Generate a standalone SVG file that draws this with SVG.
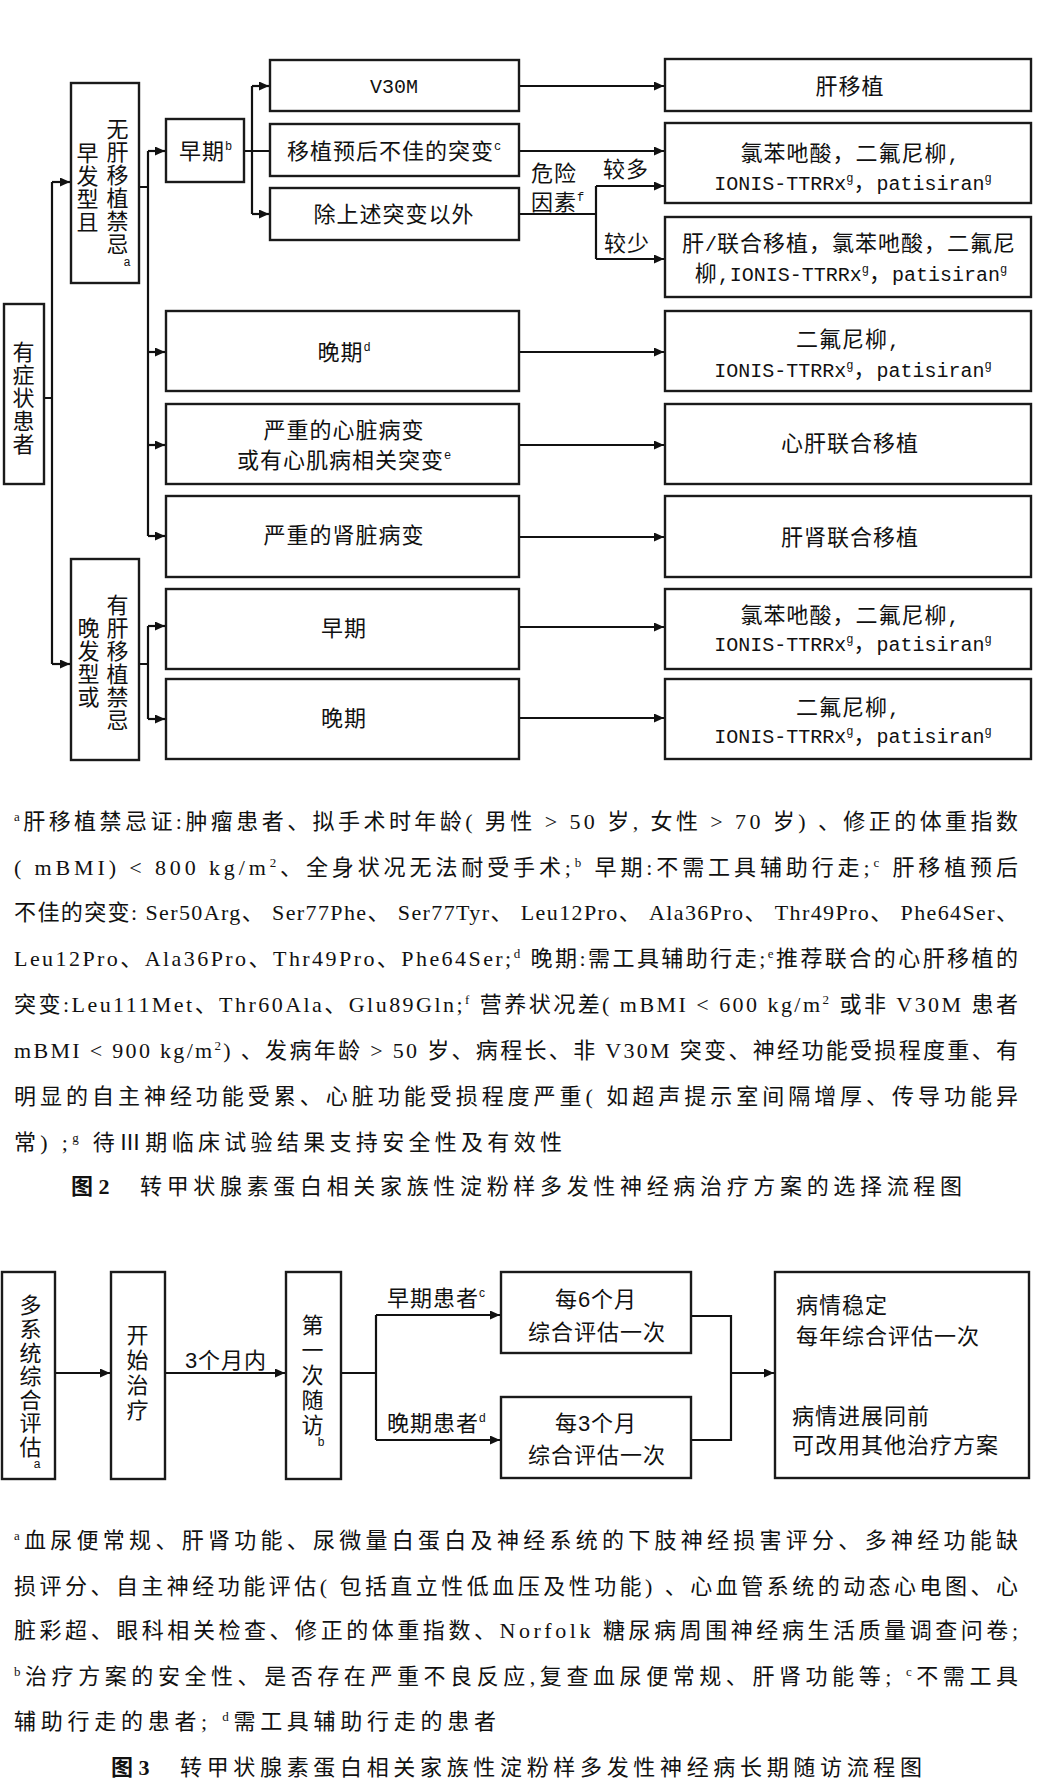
<svg xmlns="http://www.w3.org/2000/svg" width="1046" height="1788" viewBox="0 0 1046 1788">
<defs>
<marker id="ah" markerUnits="userSpaceOnUse" markerWidth="10" markerHeight="9" refX="10" refY="4.5" orient="auto">
<path d="M0,0 L10,4.5 L0,9 z" fill="#111"/>
</marker>
<style>
.bx{fill:#fff;stroke:#1a1a1a;stroke-width:2.4}
.ln{fill:none;stroke:#111;stroke-width:2.2}
.ar{fill:none;stroke:#111;stroke-width:2.2;marker-end:url(#ah)}
.b{font-family:"Liberation Mono","Noto Sans CJK SC",monospace;font-size:22px;letter-spacing:1px;fill:#111}
.c{text-anchor:middle}
.s{font-family:"Liberation Sans","Noto Sans CJK SC",sans-serif;font-size:22px;letter-spacing:1px;fill:#111}
.n{font-family:"Liberation Serif","Noto Sans CJK SC",serif;font-size:22px;fill:#111}
.cap{font-family:"Liberation Serif","Noto Sans CJK SC",serif;font-size:22px;fill:#111}
.lat{font-size:20px;letter-spacing:0}
.sp{font-size:12px;letter-spacing:0}
.ns{font-size:13px}
</style>
</defs>
<rect width="1046" height="1788" fill="#fff"/>

<!-- ===== Figure 2 connectors ===== -->
<g id="connectors-fig2">
<path class="ln" d="M44,398 H52 M52,182 V664"/>
<path class="ar" d="M52,182 H70"/>
<path class="ar" d="M52,664 H70"/>
<path class="ln" d="M139,187 H148 M148,151 V536"/>
<path class="ar" d="M148,151 H165"/>
<path class="ar" d="M148,352 H165"/>
<path class="ar" d="M148,445 H165"/>
<path class="ar" d="M148,536 H165"/>
<path class="ln" d="M244,151 H270 M252,86 V214"/>
<path class="ar" d="M252,86 H269"/>
<path class="ar" d="M252,214 H269"/>
<path class="ar" d="M519,86 H664"/>
<path class="ar" d="M519,151 H664"/>
<path class="ln" d="M519,214 H596 M596,186 V259"/>
<path class="ar" d="M596,186 H664"/>
<path class="ar" d="M596,259 H664"/>
<path class="ar" d="M519,352 H664"/>
<path class="ar" d="M519,445 H664"/>
<path class="ar" d="M519,537 H664"/>
<path class="ln" d="M139,664 H148 M148,626 V719"/>
<path class="ar" d="M148,626 H165"/>
<path class="ar" d="M148,719 H165"/>
<path class="ar" d="M519,627 H664"/>
<path class="ar" d="M519,718 H664"/>
<text class="b" x="531" y="181">危险</text>
<text class="b" x="531" y="210">因素<tspan class="sp" dy="-9">f</tspan></text>
<text class="b" x="603" y="177">较多</text>
<text class="b" x="604" y="251">较少</text>
</g>

<!-- ===== Figure 2 nodes ===== -->
<g id="n-symptomatic">
<rect class="bx" x="4" y="304" width="40" height="180"/>
<text class="b c"><tspan x="24" y="360">有</tspan><tspan x="24" y="383">症</tspan><tspan x="24" y="406">状</tspan><tspan x="24" y="429">患</tspan><tspan x="24" y="452">者</tspan></text>
</g>
<g id="n-early-onset">
<rect class="bx" x="71" y="83" width="68" height="200"/>
<text class="b c"><tspan x="118" y="137">无</tspan><tspan x="118" y="160">肝</tspan><tspan x="118" y="183">移</tspan><tspan x="118" y="206">植</tspan><tspan x="118" y="229">禁</tspan><tspan x="118" y="252">忌</tspan></text>
<text class="b c"><tspan x="88" y="161">早</tspan><tspan x="88" y="184">发</tspan><tspan x="88" y="207">型</tspan><tspan x="88" y="230">且</tspan></text>
<text class="b c sp" x="127" y="266">a</text>
</g>
<g id="n-early-b">
<rect class="bx" x="166" y="119" width="78" height="63"/>
<text class="b" x="179" y="159">早期<tspan class="sp" dy="-9">b</tspan></text>
</g>
<g id="n-v30m">
<rect class="bx" x="270" y="60" width="249" height="51"/>
<text class="b c" x="394" y="93"><tspan class="lat">V30M</tspan></text>
</g>
<g id="n-poor-mut">
<rect class="bx" x="270" y="124" width="249" height="52"/>
<text class="b c" x="394" y="159">移植预后不佳的突变<tspan class="sp" dy="-9">c</tspan></text>
</g>
<g id="n-other-mut">
<rect class="bx" x="270" y="188" width="249" height="52"/>
<text class="b c" x="394" y="222">除上述突变以外</text>
</g>
<g id="n-late-d">
<rect class="bx" x="166" y="311" width="353" height="80"/>
<text class="b c" x="344" y="360">晚期<tspan class="sp" dy="-9">d</tspan></text>
</g>
<g id="n-cardiac">
<rect class="bx" x="166" y="404" width="353" height="80"/>
<text class="b c" x="344" y="438">严重的心脏病变</text>
<text class="b c" x="344" y="468">或有心肌病相关突变<tspan class="sp" dy="-9">e</tspan></text>
</g>
<g id="n-renal">
<rect class="bx" x="166" y="496" width="353" height="81"/>
<text class="b c" x="344" y="543">严重的肾脏病变</text>
</g>
<g id="n-late-onset">
<rect class="bx" x="71" y="559" width="68" height="201"/>
<text class="b c"><tspan x="118" y="613">有</tspan><tspan x="118" y="636">肝</tspan><tspan x="118" y="659">移</tspan><tspan x="118" y="682">植</tspan><tspan x="118" y="705">禁</tspan><tspan x="118" y="728">忌</tspan></text>
<text class="b c"><tspan x="89" y="636">晚</tspan><tspan x="89" y="659">发</tspan><tspan x="89" y="682">型</tspan><tspan x="89" y="705">或</tspan></text>
</g>
<g id="n-early2">
<rect class="bx" x="166" y="589" width="353" height="80"/>
<text class="b c" x="344" y="636">早期</text>
</g>
<g id="n-late2">
<rect class="bx" x="166" y="679" width="353" height="80"/>
<text class="b c" x="344" y="726">晚期</text>
</g>

<g id="r-liver-tx">
<rect class="bx" x="665" y="59" width="366" height="52"/>
<text class="b c" x="850" y="94">肝移植</text>
</g>
<g id="r-drugs1">
<rect class="bx" x="665" y="123" width="366" height="80"/>
<text class="b c" x="850" y="161">氯苯吔酸，二氟尼柳<tspan class="lat">,</tspan></text>
<text class="b c" x="853" y="190"><tspan class="lat">IONIS-TTRRx</tspan><tspan class="sp" dy="-8">g</tspan><tspan dy="8">，</tspan><tspan class="lat">patisiran</tspan><tspan class="sp" dy="-8">g</tspan></text>
</g>
<g id="r-combined">
<rect class="bx" x="665" y="217" width="366" height="80"/>
<text class="b c" x="849" y="251">肝<tspan class="lat">/</tspan>联合移植，氯苯吔酸，二氟尼</text>
<text class="b c" x="851" y="281">柳<tspan class="lat">,IONIS-TTRRx</tspan><tspan class="sp" dy="-8">g</tspan><tspan dy="8">，</tspan><tspan class="lat">patisiran</tspan><tspan class="sp" dy="-8">g</tspan></text>
</g>
<g id="r-diflunisal1">
<rect class="bx" x="665" y="311" width="366" height="80"/>
<text class="b c" x="848" y="347">二氟尼柳<tspan class="lat">,</tspan></text>
<text class="b c" x="853" y="377"><tspan class="lat">IONIS-TTRRx</tspan><tspan class="sp" dy="-8">g</tspan><tspan dy="8">，</tspan><tspan class="lat">patisiran</tspan><tspan class="sp" dy="-8">g</tspan></text>
</g>
<g id="r-heart-liver">
<rect class="bx" x="665" y="404" width="366" height="80"/>
<text class="b c" x="850" y="451">心肝联合移植</text>
</g>
<g id="r-liver-kidney">
<rect class="bx" x="665" y="496" width="366" height="81"/>
<text class="b c" x="850" y="545">肝肾联合移植</text>
</g>
<g id="r-drugs2">
<rect class="bx" x="665" y="589" width="366" height="80"/>
<text class="b c" x="850" y="623">氯苯吔酸，二氟尼柳<tspan class="lat">,</tspan></text>
<text class="b c" x="853" y="651"><tspan class="lat">IONIS-TTRRx</tspan><tspan class="sp" dy="-8">g</tspan><tspan dy="8">，</tspan><tspan class="lat">patisiran</tspan><tspan class="sp" dy="-8">g</tspan></text>
</g>
<g id="r-diflunisal2">
<rect class="bx" x="665" y="679" width="366" height="80"/>
<text class="b c" x="848" y="715">二氟尼柳<tspan class="lat">,</tspan></text>
<text class="b c" x="853" y="743"><tspan class="lat">IONIS-TTRRx</tspan><tspan class="sp" dy="-8">g</tspan><tspan dy="8">，</tspan><tspan class="lat">patisiran</tspan><tspan class="sp" dy="-8">g</tspan></text>
</g>

<!-- ===== Figure 2 notes ===== -->
<g id="notes-fig2">
<text class="n" x="14" y="829" textLength="1004" lengthAdjust="spacing"><tspan class="ns" dy="-8">a</tspan><tspan dy="8">肝移植禁忌证:肿瘤患者、拟手术时年龄( 男性 &gt; 50 岁, 女性 &gt; 70 岁) 、修正的体重指数</tspan></text>
<text class="n" x="14" y="875" textLength="1004" lengthAdjust="spacing">( mBMI) &lt; 800 kg/m<tspan class="ns" dy="-8">2</tspan><tspan dy="8">、全身状况无法耐受手术;</tspan><tspan class="ns" dy="-8">b</tspan><tspan dy="8"> 早期:不需工具辅助行走;</tspan><tspan class="ns" dy="-8">c</tspan><tspan dy="8"> 肝移植预后</tspan></text>
<text class="n" x="14" y="920" textLength="1004" lengthAdjust="spacing">不佳的突变: Ser50Arg、 Ser77Phe、 Ser77Tyr、 Leu12Pro、 Ala36Pro、 Thr49Pro、 Phe64Ser、</text>
<text class="n" x="14" y="966" textLength="1004" lengthAdjust="spacing">Leu12Pro、Ala36Pro、Thr49Pro、Phe64Ser;<tspan class="ns" dy="-8">d</tspan><tspan dy="8"> 晚期:需工具辅助行走;</tspan><tspan class="ns" dy="-8">e</tspan><tspan dy="8">推荐联合的心肝移植的</tspan></text>
<text class="n" x="14" y="1012" textLength="1004" lengthAdjust="spacing">突变:Leu111Met、Thr60Ala、Glu89Gln;<tspan class="ns" dy="-8">f</tspan><tspan dy="8"> 营养状况差( mBMI &lt; 600 kg/m</tspan><tspan class="ns" dy="-8">2</tspan><tspan dy="8"> 或非 V30M 患者</tspan></text>
<text class="n" x="14" y="1058" textLength="1004" lengthAdjust="spacing">mBMI &lt; 900 kg/m<tspan class="ns" dy="-8">2</tspan><tspan dy="8">) 、发病年龄 &gt; 50 岁、病程长、非 V30M 突变、神经功能受损程度重、有</tspan></text>
<text class="n" x="14" y="1104" textLength="1004" lengthAdjust="spacing">明显的自主神经功能受累、心脏功能受损程度严重( 如超声提示室间隔增厚、传导功能异</text>
<text class="n" x="14" y="1150" textLength="548" lengthAdjust="spacing">常) ;<tspan class="ns" dy="-8">g</tspan><tspan dy="8"> 待Ⅲ期临床试验结果支持安全性及有效性</tspan></text>
<text class="cap" x="71" y="1194" font-weight="bold">图 2</text>
<text class="cap" x="140" y="1194" textLength="822" lengthAdjust="spacing">转甲状腺素蛋白相关家族性淀粉样多发性神经病治疗方案的选择流程图</text>
</g>

<!-- ===== Figure 3 connectors ===== -->
<g id="connectors-fig3">
<path class="ar" d="M55,1373 H110"/>
<path class="ar" d="M165,1373 H285"/>
<path class="ln" d="M341,1373 H376 M376,1315 V1440"/>
<path class="ar" d="M376,1315 H500"/>
<path class="ar" d="M376,1440 H500"/>
<path class="ln" d="M691,1316 H731 V1440 H691"/>
<path class="ar" d="M731,1373 H774"/>
<text class="s c" x="226" y="1368">3个月内</text>
<text class="s" x="387" y="1306">早期患者<tspan class="sp" dy="-9">c</tspan></text>
<text class="s" x="387" y="1431">晚期患者<tspan class="sp" dy="-9">d</tspan></text>
</g>

<!-- ===== Figure 3 nodes ===== -->
<g id="f3-assess">
<rect class="bx" x="2" y="1272" width="53" height="207"/>
<text class="s c"><tspan x="31" y="1313">多</tspan><tspan x="31" y="1337">系</tspan><tspan x="31" y="1361">统</tspan><tspan x="31" y="1384">综</tspan><tspan x="31" y="1408">合</tspan><tspan x="31" y="1431">评</tspan><tspan x="31" y="1455">估</tspan></text>
<text class="s c sp" x="37" y="1468">a</text>
</g>
<g id="f3-start">
<rect class="bx" x="111" y="1272" width="54" height="207"/>
<text class="s c"><tspan x="138" y="1343">开</tspan><tspan x="138" y="1368">始</tspan><tspan x="138" y="1393">治</tspan><tspan x="138" y="1418">疗</tspan></text>
</g>
<g id="f3-first">
<rect class="bx" x="286" y="1272" width="55" height="207"/>
<text class="s c"><tspan x="313" y="1333">第</tspan><tspan x="313" y="1358">一</tspan><tspan x="313" y="1383">次</tspan><tspan x="313" y="1408">随</tspan><tspan x="313" y="1433">访</tspan></text>
<text class="s c sp" x="321" y="1446">b</text>
</g>
<g id="f3-6m">
<rect class="bx" x="501" y="1272" width="190" height="81"/>
<text class="s c" x="596" y="1307">每6个月</text>
<text class="s c" x="597" y="1340">综合评估一次</text>
</g>
<g id="f3-3m">
<rect class="bx" x="501" y="1397" width="190" height="81"/>
<text class="s c" x="596" y="1431">每3个月</text>
<text class="s c" x="597" y="1463">综合评估一次</text>
</g>
<g id="f3-outcome">
<rect class="bx" x="775" y="1272" width="254" height="206"/>
<text class="s" x="796" y="1313">病情稳定</text>
<text class="s" x="796" y="1344">每年综合评估一次</text>
<text class="s" x="792" y="1424">病情进展同前</text>
<text class="s" x="792" y="1453">可改用其他治疗方案</text>
</g>

<!-- ===== Figure 3 notes ===== -->
<g id="notes-fig3">
<text class="n" x="14" y="1548" textLength="1004" lengthAdjust="spacing"><tspan class="ns" dy="-8">a</tspan><tspan dy="8">血尿便常规、肝肾功能、尿微量白蛋白及神经系统的下肢神经损害评分、多神经功能缺</tspan></text>
<text class="n" x="14" y="1594" textLength="1004" lengthAdjust="spacing">损评分、自主神经功能评估( 包括直立性低血压及性功能) 、心血管系统的动态心电图、心</text>
<text class="n" x="14" y="1638" textLength="1004" lengthAdjust="spacing">脏彩超、眼科相关检查、修正的体重指数、Norfolk 糖尿病周围神经病生活质量调查问卷;</text>
<text class="n" x="14" y="1684" textLength="1004" lengthAdjust="spacing"><tspan class="ns" dy="-8">b</tspan><tspan dy="8">治疗方案的安全性、是否存在严重不良反应,复查血尿便常规、肝肾功能等; </tspan><tspan class="ns" dy="-8">c</tspan><tspan dy="8">不需工具</tspan></text>
<text class="n" x="14" y="1729" textLength="482" lengthAdjust="spacing">辅助行走的患者; <tspan class="ns" dy="-8">d</tspan><tspan dy="8">需工具辅助行走的患者</tspan></text>
<text class="cap" x="111" y="1775" font-weight="bold">图 3</text>
<text class="cap" x="180" y="1775" textLength="742" lengthAdjust="spacing">转甲状腺素蛋白相关家族性淀粉样多发性神经病长期随访流程图</text>
</g>
</svg>
